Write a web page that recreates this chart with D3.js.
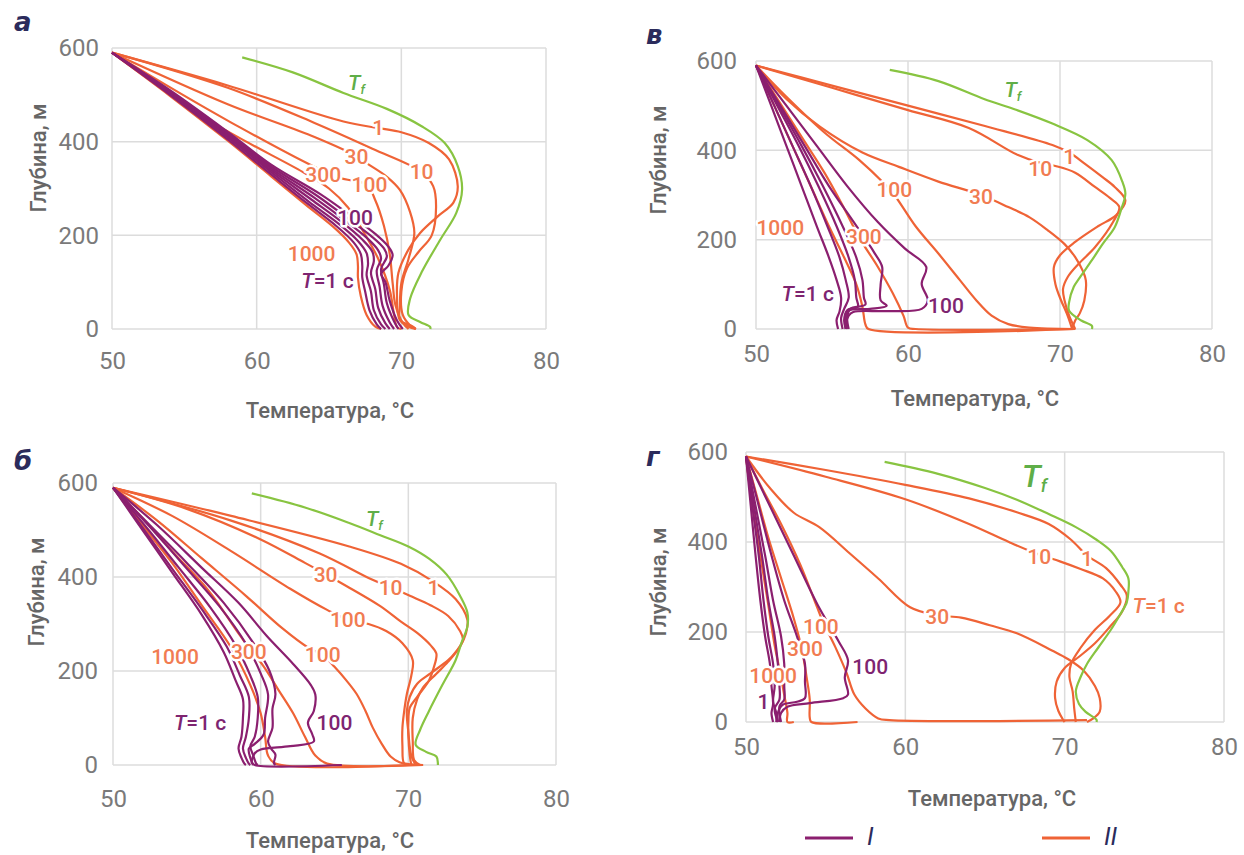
<!DOCTYPE html>
<html>
<head>
<meta charset="utf-8">
<script src="https://cdn.jsdelivr.net/npm/d3@7"></script>
<style>
  html, body { margin: 0; padding: 0; background: #fff; }
  svg { display: block; }
  text { font-family: 'Roboto', 'Liberation Sans', sans-serif; }
</style>
</head>
<body>
<svg id="chart" width="1244" height="855"></svg>
<script>
// Axis ticks shared by all four panels
const tempTicks = [50, 60, 70, 80];
const depthTicks = [0, 200, 400, 600];

// ---------- panel а ----------  points are [temperature °C, depth m]
const aFluid = [[59,580],[62.5,548],[66,504],[69,470],[71.4,433],[73,397],[73.9,348],[74.2,298],[73.8,248],[72.7,191],[71.4,121],[70.6,64],[70.5,30],[71.3,15],[72,4],[72,0]];
const aModeI = [
  [[50,590],[54,500],[58,405],[61,330],[63.5,268],[65.5,220],[66.7,185],[67.2,160],[67.3,135],[67.3,110],[67.5,80],[67.8,40],[68.3,10],[68.6,0]],
  [[50,590],[54,502],[58,409],[61,335],[63.6,272],[65.7,224],[67,188],[67.6,162],[67.7,140],[67.6,115],[67.9,80],[68.1,40],[68.6,10],[68.9,0]],
  [[50,590],[54,504],[58,412],[61,339],[63.8,276],[65.9,228],[67.3,191],[68,165],[68.1,145],[67.9,120],[68.2,85],[68.4,45],[68.9,12],[69.2,0]],
  [[50,590],[54,506],[58,415],[61,343],[64,280],[66.1,232],[67.6,195],[68.4,168],[68.6,150],[68.3,125],[68.5,90],[68.7,50],[69.2,14],[69.5,0]],
  [[50,590],[54,508],[58,418],[61,347],[64.2,284],[66.3,236],[67.9,199],[68.8,172],[69,155],[68.6,128],[68.8,95],[69,55],[69.5,16],[69.8,0]],
  [[50,590],[54,510],[58,421],[61,351],[64.4,288],[66.6,240],[68.2,203],[69.1,176],[69.4,158],[69.1,135],[68.6,118],[68.9,100],[69.2,60],[69.7,18],[70.1,0]]
];
const aModeII = [
  [[50,590],[58,520],[66,443],[68.4,429],[70,420],[71.9,397],[73.3,362],[73.9,305],[73.6,270],[72.5,240],[71.3,205],[70.5,170],[69.8,120],[69.7,70],[69.9,20],[70.8,5],[71,0]],
  [[50,590],[58,515],[64,440],[68,385],[71.3,337],[72.2,305],[72.4,260],[72.1,200],[71.2,165],[70.4,130],[70.0,80],[70.1,30],[70.6,8],[71,0]],
  [[50,590],[58,480],[64,410],[66.9,369],[67.6,354],[69,325],[69.9,297],[70.6,250],[70.9,205],[70.5,150],[70.0,98],[69.9,50],[69.9,19],[70.5,5],[71,0]],
  [[50,590],[58,445],[65.5,325],[67.6,308],[68.2,275],[68.8,220],[69.2,160],[69.4,98],[69.6,50],[70.1,13],[70.5,0]],
  [[50,590],[57,440],[63.2,335],[65,300],[66.3,260],[67.3,212],[68.4,150],[69.2,83],[69.5,30],[69.7,4],[70,0]],
  [[50,590],[54,498],[58,402],[61,326],[63.4,265],[65.3,218],[66.4,184],[66.9,160],[67,135],[67,110],[67.2,70],[67.6,30],[68.2,5],[68.6,0]]
];
const aLabels = [
  ["Tf", 66.9, 525, "fluid"], ["1", 68.4, 429, "II"], ["30", 66.9, 369, "II"], ["10", 71.4, 337, "II"],
  ["300", 64.6, 330, "II"], ["100", 67.8, 308, "II"], ["100", 66.8, 238, "I"], ["1000", 63.8, 160, "II"], ["T=1 c", 64.9, 103, "I"]
];

// ---------- panel б ----------
const bFluid = [[59.4,578],[63,548],[66,515],[68.1,489],[70,465],[71.4,439],[72.6,405],[73.5,360],[74,324],[74,295],[73.6,260],[73.2,223],[72.3,170],[71.4,115],[70.8,75],[70.5,43],[71.2,28],[71.9,18],[72,4],[72,0]];
const bModeI = [
  [[50,590],[52,500],[54,410],[56,320],[57.5,240],[58.3,180],[58.8,140],[58.8,100],[58.7,60],[58.5,35],[58.7,15],[58.9,3],[59,0]],
  [[50,590],[52,505],[54,418],[56,332],[57.7,252],[58.6,190],[59.2,145],[59.2,100],[59,60],[58.8,35],[59,15],[59.2,3],[59.3,0]],
  [[50,590],[52.2,508],[54.4,422],[56.6,335],[58.3,255],[59.3,190],[59.8,145],[59.8,100],[59.6,60],[59.3,40],[59.5,20],[59.7,3],[59.8,0]],
  [[50,590],[52.4,510],[54.8,425],[57.2,338],[59,258],[60,195],[60.5,150],[60.3,100],[60.2,65],[59.6,45],[59.2,35],[59.3,15],[59.5,0]],
  [[50,590],[52.5,510],[55,430],[57.5,345],[59.5,260],[60.6,200],[61,151],[60.8,120],[60.8,79],[60.5,50],[60.7,35],[61,22],[60.9,4],[61,0]],
  [[50,590],[53,510],[56,420],[58.5,345],[60.4,275],[62.2,215],[63.4,170],[63.7,150],[63.6,115],[63.2,90],[63.5,65],[63.6,50],[62,40],[60,33],[59.6,25],[59.4,5],[59.6,0],[65.5,0]]
];
const bModeII = [
  [[50,590],[58,530],[66,465],[69.5,428],[71.7,390],[73.2,353],[74,309],[73.9,280],[73.5,252],[72.7,220],[71.9,194],[71,165],[70.6,140],[70.3,100],[70.3,50],[70.4,10],[70.8,0]],
  [[50,590],[58,520],[64,450],[67.5,395],[68.8,378],[70.1,360],[71.5,340],[72.7,317],[73.5,285],[73.7,266],[73.2,240],[72.7,223],[71.5,195],[70.6,173],[70.1,145],[69.9,115],[70,70],[70.2,20],[70.5,0]],
  [[50,590],[55,545],[60,480],[63,430],[64.4,406],[65.8,381],[68.1,338],[69.5,305],[70.6,281],[71.5,255],[71.9,237],[71.7,205],[71.4,180],[70.6,145],[70.1,122],[70,90],[70,65],[70.1,20],[70.2,0]],
  [[50,590],[54,530],[58,455],[62,375],[64.5,330],[65.9,309],[67.3,300],[68.5,285],[69.6,259],[70.3,223],[70.2,190],[69.9,151],[69.7,110],[69.6,79],[69.6,40],[69.7,4],[70,0]],
  [[50,590],[53,520],[56,440],[59,360],[61.5,290],[63.2,250],[64.2,234],[65,209],[65.8,180],[66.5,151],[67.1,115],[67.6,79],[68.2,45],[68.8,18],[69.4,6],[70,2],[71,0]],
  [[50,590],[52,525],[54,455],[56.5,370],[58.5,280],[59.2,250],[60.2,210],[61.2,160],[62.2,110],[63,60],[63.7,20],[64.5,3],[71,0]],
  [[50,590],[52,510],[54,430],[56,340],[58,250],[59.3,170],[60,110],[60.3,60],[60.5,20],[61,3],[70,0]]
];
const bLabels = [
  ["Tf", 67.7, 525, "fluid"], ["30", 64.4, 406, "II"], ["10", 68.8, 378, "II"], ["1", 71.7, 378, "II"],
  ["100", 65.9, 309, "II"], ["100", 64.2, 234, "II"], ["300", 59.2, 241, "II"], ["1000", 54.2, 230, "II"],
  ["T=1 c", 55.9, 90, "I"], ["100", 65, 90, "I"]
];

// ---------- panel в ----------
const vFluid = [[58.8,580],[62,555],[65,515],[67.1,491],[69.5,460],[71.8,423],[73.4,378],[74.1,330],[74.3,303],[74,265],[73.6,228],[72.8,190],[72.1,154],[71.3,115],[70.9,94],[70.6,60],[70.6,41],[71.4,19],[72.1,7],[72.1,0]];
const vModeI = [
  [[50,590],[51,500],[52,410],[53,320],[54,230],[54.8,160],[55.3,110],[55.6,70],[55.5,40],[55.3,20],[55.4,0]],
  [[50,590],[51.2,500],[52.4,410],[53.6,320],[54.7,230],[55.5,160],[55.9,110],[56.1,70],[55.8,45],[55.6,25],[55.7,0]],
  [[50,590],[51.4,500],[52.8,410],[54.1,320],[55.3,230],[56.1,160],[56.5,110],[56.6,70],[56.7,50],[56,42],[55.8,20],[55.9,0]],
  [[50,590],[51.5,500],[53,410],[54.4,320],[55.7,230],[56.6,160],[57,110],[57.1,70],[57.2,55],[56.2,45],[56,25],[56.1,0]],
  [[50,590],[51.6,500],[53.2,410],[54.8,320],[56.5,236],[57.8,170],[58.3,139],[58.2,100],[58.2,64],[58.6,52],[57.5,45],[56.1,41],[55.9,20],[56,0]],
  [[50,590],[52,500],[54,410],[56,320],[58,240],[59.8,180],[61.2,139],[60.9,101],[61.3,64],[60.9,45],[58.5,40],[56.4,38],[56.1,30],[55.9,10],[55.9,0]]
];
const vModeII = [
  [[50,590],[55,545],[60,500],[65,455],[69.5,412],[70.6,395],[71.6,371],[72.8,340],[73.6,318],[74.3,288],[73.7,255],[72.5,230],[71,195],[70,165],[69.6,139],[69.7,100],[70,70],[70.5,30],[70.8,0]],
  [[50,590],[55,540],[60,490],[64,450],[67.2,390],[68.7,372],[69.7,365],[71,350],[72.3,318],[73.3,293],[73.9,273],[73.5,240],[72.3,183],[71.2,145],[70.5,116],[70.2,90],[70.3,64],[70.6,30],[71,0]],
  [[50,590],[52,515],[54.2,453],[57,395],[59.4,363],[62,330],[64.8,300],[66.6,273],[68,250],[69.2,221],[70.3,190],[71,161],[71.5,130],[71.7,109],[71.6,64],[71.3,35],[71,19],[70.8,0]],
  [[50,590],[52,520],[54.5,440],[56.8,378],[58.3,330],[59.1,300],[60.5,230],[62,169],[63.4,110],[64.5,64],[65.5,30],[66.6,11],[68,3],[71,0]],
  [[50,590],[51.5,510],[53,430],[54.5,350],[55.8,270],[56.8,204],[58,140],[59,80],[59.7,30],[60,3],[60.5,0],[71,0]],
  [[50,590],[51.2,500],[52.4,410],[53.6,320],[54.8,230],[55.8,160],[56.6,100],[57,50],[57.2,10],[57.4,0],[71,0]]
];
const vLabels = [
  ["Tf", 66.9, 536, "fluid"], ["1", 70.6, 386, "II"], ["10", 68.7, 360, "II"], ["100", 59.1, 311, "II"],
  ["30", 64.8, 296, "II"], ["1000", 51.6, 228, "II"], ["300", 57.1, 206, "II"], ["T=1 c", 53.4, 79, "I"], ["100", 62.5, 52, "I"]
];

// ---------- panel г ----------
const gFluid = [[58.7,578],[62,552],[65,520],[67,494],[69,462],[70.7,433],[72,405],[72.9,380],[73.6,345],[74,319],[74,290],[73.9,266],[73.5,240],[72.9,205],[72.1,165],[71.4,129],[71,100],[70.7,68],[70.9,40],[71.3,23],[72,5],[72,0]];
const gModeI = [
  [[50,590],[50.3,480],[50.6,370],[50.9,270],[51.2,190],[51.5,129],[51.6,80],[51.7,40],[51.6,20],[51.7,0]],
  [[50,590],[50.4,480],[50.8,370],[51.1,270],[51.4,190],[51.7,129],[51.8,80],[51.7,45],[51.9,20],[51.9,0]],
  [[50,590],[50.5,480],[51,370],[51.4,270],[51.8,190],[52,129],[52.1,80],[52.1,50],[51.8,30],[52,0]],
  [[50,590],[50.6,480],[51.2,370],[51.7,270],[52.2,190],[52.4,129],[52.4,80],[52.4,50],[52.1,35],[52.2,0]],
  [[50,590],[50.8,480],[51.6,370],[52.4,270],[53.2,190],[53.7,129],[53.7,90],[53.7,53],[53.2,45],[52.3,38],[52,20],[52,0]],
  [[50,590],[51.5,480],[53,370],[54.5,260],[55.8,180],[56.4,137],[56.2,99],[56.4,61],[56.1,53],[54,42],[52.6,34],[52.2,20],[52.1,0]]
];
const gModeII = [
  [[50,590],[55,560],[60,527],[64,497],[67,466],[69,440],[70.4,405],[71.4,370],[72.6,342],[73.5,305],[73.9,281],[73.6,245],[72.8,210],[71.9,175],[70.9,145],[70.0,120],[69.5,90],[69.4,53],[69.6,25],[69.9,5],[70,0]],
  [[50,590],[55,545],[60,495],[64,440],[66.5,400],[68.4,372],[69.7,357],[71,340],[72.4,319],[73.2,290],[73.5,266],[72.8,235],[71.9,205],[71,165],[70.4,129],[70.3,100],[70.5,68],[70.6,30],[70.7,0]],
  [[50,590],[51.5,520],[53,465],[54.6,433],[56.5,375],[58.3,319],[60.3,255],[62,237],[63.5,232],[65.3,215],[67,197],[69.2,159],[70.2,140],[71.2,114],[71.9,80],[72.2,53],[72.2,23],[71.8,8],[71.4,0]],
  [[50,590],[51,520],[52.2,440],[53.4,350],[54.3,270],[54.8,225],[55.6,167],[56.3,110],[56.8,61],[57.5,30],[58.3,8],[59,4],[71.4,4]],
  [[50,590],[50.7,500],[51.4,410],[52.2,320],[53,230],[53.5,163],[53.8,100],[54,50],[54,10],[54.1,0],[57,0]],
  [[50,590],[50.4,480],[50.9,370],[51.4,260],[51.8,170],[52.2,100],[52.4,60],[52.6,20],[52.6,0],[53,0]]
];
const gLabels = [
  ["Tf", 68.1, 547, "fluidBig"], ["10", 68.4, 368, "II"], ["1", 71.4, 364, "II"], ["T=1 c", 75.9, 258, "II"],
  ["30", 62, 235, "II"], ["100", 54.7, 213, "II"], ["300", 53.7, 163, "II"], ["1000", 51.7, 103, "II"],
  ["100", 57.8, 122, "I"], ["1", 51.1, 46, "I"]
];

// Legend entries
const legendNames = ["I", "II"];

// ---------- drawing ----------
const colors = { I: "#8b1f6f", II: "#ef6336", fluid: "#88c441" };
const labelColors = { I: "#7e2470", II: "#f17c52", fluid: "#5fae48", fluidBig: "#5fae48" };
const tickColor = "#7a7a7a";
const gridColor = "#dcdcdc";

const panels = [
  { letter: "а", box: [112, 546, 48, 329], letterPos: [14, 31], yTitle: [38, 158], xTitlePos: [330, 418], xTickDy: 41, yTickDx: 13,
    fluid: aFluid, I: aModeI, II: aModeII, labels: aLabels },
  { letter: "в", box: [756, 1212, 61, 329], letterPos: [646, 44], yTitle: [658, 160], xTitlePos: [975, 406], xTickDy: 34, yTickDx: 19,
    fluid: vFluid, I: vModeI, II: vModeII, labels: vLabels },
  { letter: "б", box: [113, 556, 483, 765], letterPos: [14, 470], yTitle: [36, 592], xTitlePos: [330, 848], xTickDy: 43, yTickDx: 15,
    fluid: bFluid, I: bModeI, II: bModeII, labels: bLabels },
  { letter: "г", box: [746, 1224, 452, 722], letterPos: [646, 466], yTitle: [658, 582], xTitlePos: [992, 806], xTickDy: 34, yTickDx: 18,
    fluid: gFluid, I: gModeI, II: gModeII, labels: gLabels }
];

const svg = d3.select("#chart");

panels.forEach(p => {
  const [L, R, T, B] = p.box;
  const x = d3.scaleLinear().domain([50, 80]).range([L, R]);
  const y = d3.scaleLinear().domain([0, 600]).range([B, T]);
  const g = svg.append("g");

  // grid and frame
  g.selectAll(".vgrid").data(tempTicks).join("line")
    .attr("x1", d => x(d)).attr("x2", d => x(d)).attr("y1", T).attr("y2", B)
    .attr("stroke", gridColor).attr("stroke-width", 1.5);
  g.selectAll(".hgrid").data(depthTicks).join("line")
    .attr("x1", L).attr("x2", R).attr("y1", d => y(d)).attr("y2", d => y(d))
    .attr("stroke", gridColor).attr("stroke-width", 1.5);

  // axes (tick labels only; lines come from the grid)
  const xAxis = g.append("g").attr("transform", `translate(0,${B})`)
    .call(d3.axisBottom(x).tickValues(tempTicks).tickSize(0).tickPadding(p.xTickDy - 18));
  const yAxis = g.append("g").attr("transform", `translate(${L},0)`)
    .call(d3.axisLeft(y).tickValues(depthTicks).tickSize(0).tickPadding(p.yTickDx));
  [xAxis, yAxis].forEach(ax => {
    ax.select(".domain").remove();
    ax.selectAll("text").attr("fill", tickColor).style("font-size", "24px")
      .style("font-family", "'Roboto', sans-serif");
  });

  // axis titles
  g.append("text").attr("x", p.xTitlePos[0]).attr("y", p.xTitlePos[1])
    .attr("text-anchor", "middle").attr("fill", "#666").style("font-size", "22px").style("font-weight", "500")
    .text("Температура, °C");
  g.append("text")
    .attr("transform", `translate(${p.yTitle[0]},${p.yTitle[1]}) rotate(-90)`)
    .attr("text-anchor", "middle").attr("dy", "0.35em").attr("fill", "#666")
    .style("font-size", "22px").style("font-weight", "500")
    .text("Глубина, м");

  // panel letter
  g.append("text").attr("x", p.letterPos[0]).attr("y", p.letterPos[1])
    .attr("fill", "#2b2b5c").style("font-size", "26px").style("font-weight", "bold").style("font-style", "italic")
    .style("font-family", "'DejaVu Sans', sans-serif")
    .text(p.letter);

  const line = d3.line().x(d => x(d[0])).y(d => y(d[1])).curve(d3.curveCatmullRom.alpha(0.5));

  g.selectAll(".c2").data(p.II).join("path")
    .attr("d", line).attr("fill", "none").attr("stroke", colors.II).attr("stroke-width", 2.2)
    .attr("stroke-linejoin", "round");
  g.selectAll(".c1").data(p.I).join("path")
    .attr("d", line).attr("fill", "none").attr("stroke", colors.I).attr("stroke-width", 2.2)
    .attr("stroke-linejoin", "round");
  g.append("path").datum(p.fluid)
    .attr("d", line).attr("fill", "none").attr("stroke", colors.fluid).attr("stroke-width", 2.2);

  // curve labels with a white halo that breaks the line underneath
  p.labels.forEach(([txt, tv, dv, kind]) => {
    const t = g.append("text").attr("x", x(tv)).attr("y", y(dv)).attr("dy", "0.35em")
      .attr("text-anchor", "middle").attr("fill", labelColors[kind])
      .attr("stroke", "#fff").attr("stroke-width", 5).attr("paint-order", "stroke")
      .attr("stroke-linejoin", "round").style("font-weight", "500")
      .style("font-size", kind === "fluidBig" ? "32px" : "21px");
    if (txt === "Tf") {
      t.append("tspan").style("font-style", "italic").text("T");
      t.append("tspan").attr("dy", "0.3em").style("font-style", "italic")
        .style("font-size", kind === "fluidBig" ? "18px" : "13px").text("f");
    } else if (txt === "T=1 c") {
      t.append("tspan").style("font-style", "italic").text("T");
      t.append("tspan").text("=1 c");
    } else {
      t.text(txt);
    }
  });
});

// legend
const legend = svg.append("g");
const legendX = [805, 1042];
legendNames.forEach((name, i) => {
  legend.append("line").attr("x1", legendX[i]).attr("x2", legendX[i] + 48)
    .attr("y1", 838).attr("y2", 838).attr("stroke", colors[name]).attr("stroke-width", 3);
  legend.append("text").attr("x", legendX[i] + 62).attr("y", 845)
    .attr("fill", "#2b2b5c").style("font-size", "25px").style("font-style", "italic")
    .text(name);
});
</script>
</body>
</html>
